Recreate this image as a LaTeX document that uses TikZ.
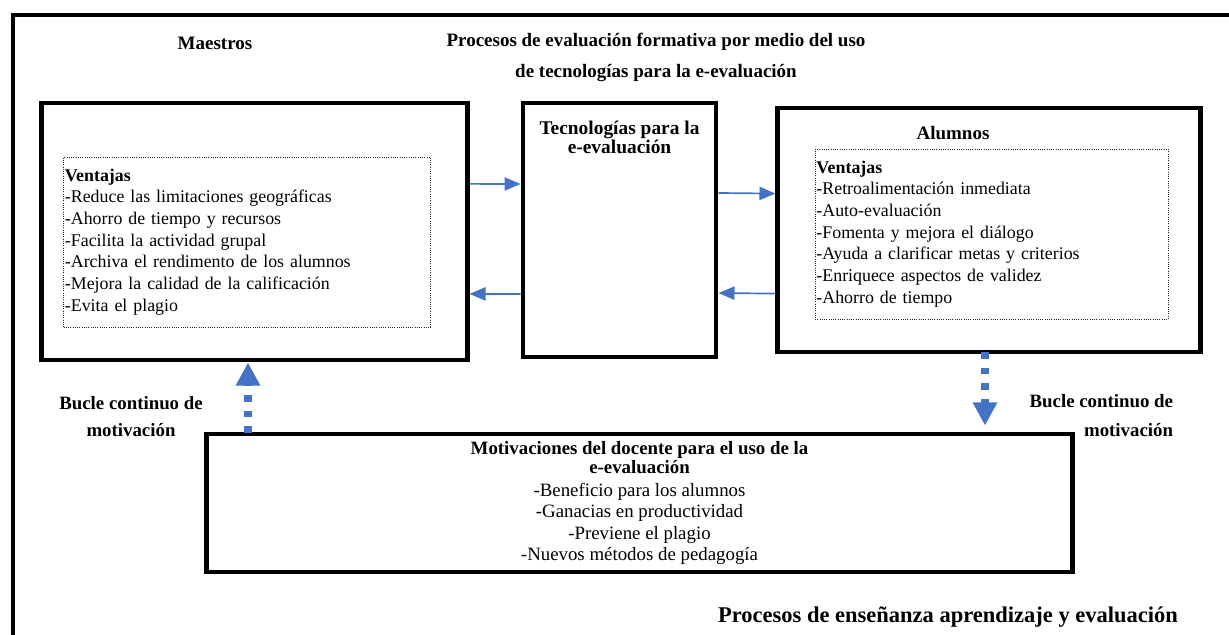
\documentclass[tikz,border=0pt]{standalone}
\usepackage{fontspec}
\setmainfont{Liberation Serif}
\usetikzlibrary{positioning,arrows.meta}
\definecolor{azul}{RGB}{68,114,196}

\begin{document}
\begin{tikzpicture}[x=0.025cm,y=-0.025cm,
    caja/.style={draw,line width=3.5pt,inner sep=0pt},
    ventajas/.style={draw=black!85,densely dotted,line width=0.6pt,align=left,inner xsep=1pt,
        minimum height=4.25cm,font=\fontsize{12.7}{15.4}\selectfont},
    titulo/.style={font=\fontsize{13.5}{14}\selectfont\bfseries,align=center},
    flecha/.style={azul,line width=1.2pt,-{Triangle[length=4mm,width=3.3mm]}},
    bucle/.style={azul,line width=5pt,dash pattern=on 0.17cm off 0.22cm,
        -{Triangle[length=5.8mm,width=5.8mm]}}]
  \useasboundingbox (0,0) rectangle (1229,635);
  % marco exterior
  \draw[line width=3.2pt] (13,635) -- (13,15) -- (1229,15);

  \node[titulo] (maestros) at (215,43) {Maestros};
  \node[titulo,font=\fontsize{13.5}{22}\selectfont\bfseries] (proctit) at (656,57.5)
    {Procesos de evaluación formativa por medio del uso\\de tecnologías para la e-evaluación};

  % maestros
  \node[caja,minimum width=10.625cm,minimum height=6.425cm] (maebox) at (254.5,231.5) {};
  \node[ventajas,text width=9.1cm] (maeven) at (247,242) {\textbf{Ventajas}\\
    -Reduce las limitaciones geográficas\\
    -Ahorro de tiempo y recursos\\
    -Facilita la actividad grupal\\
    -Archiva el rendimento de los alumnos\\
    -Mejora la calidad de la calificación\\
    -Evita el plagio};

  % tecnologias
  \node[caja,minimum width=4.825cm,minimum height=6.35cm] (tecbox) at (619.5,230) {};
  \node[titulo,font=\fontsize{13.8}{13.5}\selectfont\bfseries,below=0.4cm of tecbox.north] (tectit)
    {Tecnologías para la\\e-evaluación};

  % alumnos
  \node[caja,minimum width=10.55cm,minimum height=6.1cm] (alubox) at (989,230) {};
  \node[titulo] (alutit) at (953,133) {Alumnos};
  \node[ventajas,text width=8.75cm] (aluven) at (991.5,234) {\textbf{Ventajas}\\
    -Retroalimentación inmediata\\
    -Auto-evaluación\\
    -Fomenta y mejora el diálogo\\
    -Ayuda a clarificar metas y criterios\\
    -Enriquece aspectos de validez\\
    -Ahorro de tiempo};

  % motivaciones
  \node[caja,minimum width=21.625cm,minimum height=3.45cm,align=center,
        font=\fontsize{13.4}{15.3}\selectfont] (motiv) at (639.5,503)
    {\textbf{Motivaciones del docente para el uso de la}\\[-1.8pt]
     \textbf{e-evaluación}\\[1pt]
     -Beneficio para los alumnos\\
     -Ganacias en productividad\\
     -Previene el plagio\\
     -Nuevos métodos de pedagogía};

  \node[titulo,font=\fontsize{13.4}{19}\selectfont\bfseries] (bucleizq) at (131,416.5)
    {Bucle continuo de\\motivación};
  \node[titulo,align=right,anchor=east,font=\fontsize{13.4}{20.5}\selectfont\bfseries] (bucleder)
    at (1178,415.5) {Bucle continuo de\\motivación};
  \node[titulo,font=\fontsize{16}{18}\selectfont\bfseries] (procens) at (948,617)
    {Procesos de enseñanza aprendizaje y evaluación};

  % flechas
  \draw[flecha] ([yshift=1.19cm]maebox.east) -- ([yshift=1.15cm]tecbox.west);
  \draw[flecha] ([yshift=-1.6cm]tecbox.west) -- ([yshift=-1.56cm]maebox.east);
  \draw[flecha] ([yshift=0.925cm]tecbox.east) -- ([yshift=0.91cm]alubox.west);
  \draw[flecha] ([yshift=-1.59cm]alubox.west) -- ([yshift=-1.575cm]tecbox.east);

  \coordinate (bucleL) at (248,433);
  \coordinate (bucleR) at (985,352);
  \draw[bucle] (bucleL) -- (bucleL |- maebox.south);
  \draw[bucle,shorten >=0.15cm] (bucleR) -- (bucleR |- motiv.north);
\end{tikzpicture}
\end{document}
